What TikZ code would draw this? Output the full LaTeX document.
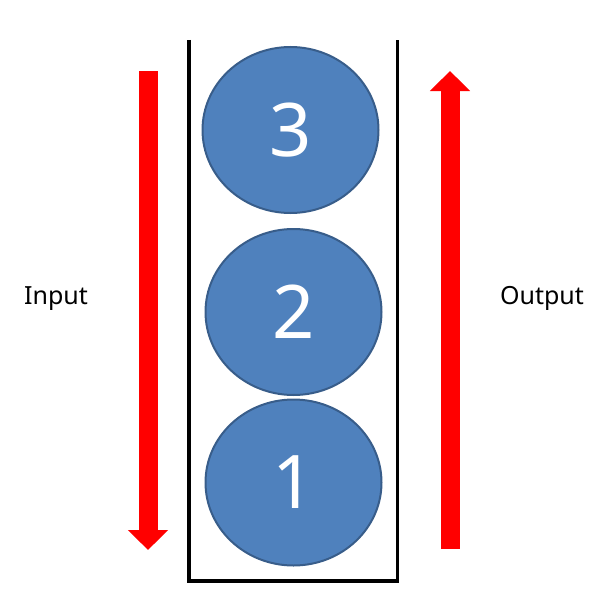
\documentclass[tikz,border=0pt]{standalone}
\usepackage{fontspec}
\setmainfont{Noto Sans}
\usetikzlibrary{shapes.geometric, arrows.meta}

\definecolor{ballfill}{HTML}{4F81BD}
\definecolor{ballline}{HTML}{385D8A}

\tikzset{
  ball/.style={draw=ballline, fill=ballfill, ellipse, line width=2pt,
    minimum width=176pt, minimum height=166pt, inner sep=0pt,
    text=white, font=\fontsize{74}{74}\selectfont},
  bigarrow/.style={red, line width=19pt,
    -{Triangle[length=20pt, width=39pt]}},
  label/.style={anchor=base, font=\fontsize{25}{25}\selectfont}
}

\begin{document}
\begin{tikzpicture}[x=1pt, y=-1pt]
\useasboundingbox (0,0) rectangle (602,610);

% the stack, open at the top
\draw[line width=3.5pt, line join=miter] (189,40) -- (189,581) -- (397.5,581) -- (397.5,40);

\foreach \n/\x/\y in {1/293.5/482.5, 2/293.5/312, 3/290.5/130}
{
  \node[ball] (b\n) at (\x,\y) {\n};
}

% input goes down, output goes up
\coordinate (intop) at (148,71);
\coordinate (inbot) at (148,550);
\coordinate (outbot) at (450,549);
\coordinate (outtop) at (450,71);
\draw[bigarrow] (intop) -- (inbot);
\draw[bigarrow] (outbot) -- (outtop);

\node[label] (input) at (56,304) {Input};
\node[label] (output) at (542,304) {Output};
\end{tikzpicture}
\end{document}
